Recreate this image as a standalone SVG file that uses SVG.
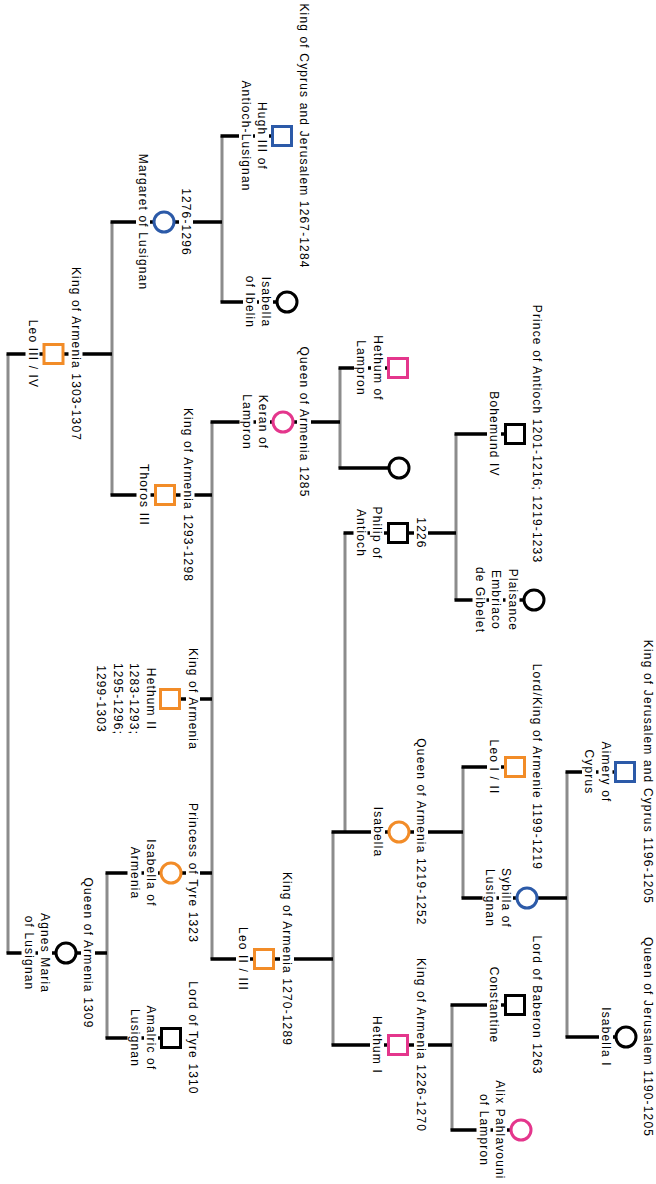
<svg xmlns="http://www.w3.org/2000/svg" width="656" height="1184" viewBox="0 0 656 1184">
<style>
.v{stroke:#8c8c8c;stroke-width:3;fill:none}
.h{stroke:#000;stroke-width:3.5;fill:none}
.s{fill:#fff;stroke-width:3}
.or{stroke:#F28C28}.bl{stroke:#2C5AA8}.pk{stroke:#E4368C}.bk{stroke:#000}
.bg{fill:#fff}
text{font-family:"Liberation Sans",Arial,sans-serif;font-size:12px;letter-spacing:1.15px;fill:#000;text-anchor:middle;dominant-baseline:central}
</style>
<rect width="656" height="1184" fill="#fff"/>
<g id="connectors">
<path class="v" d="M8 354V953M112 222V495M222 136V302M212 422V959M107 873V1038M340 368V468M333 832V1045M345 533V832M456 434V600M463 767V898M567 772V1037M452 1005V1130"/>
<path class="h" d="M6.5 354H53M53 354H112M6.5 953H66M66 953H107M110.5 222H164M164 222H222M110.5 495H165M165 495H212M170 699H212M105.5 873H171M171 873H212M105.5 1038H171M220.5 136H282M220.5 302H287M210.5 422H283M283 422H340M210.5 959H264M264 959H333M338.5 368H398M338.5 468H399M343.5 533H398M398 533H456M331.5 832H399M399 832H463M331.5 1045H398M398 1045H452M454.5 434H515M454.5 600H534M461.5 767H515M461.5 898H527M527 898H567M450.5 1005H515M450.5 1130H521M565.5 772H625M565.5 1037H626"/>
</g>
<g id="leo3" transform="translate(53.5,354)"><rect class="s or" x="-9.5" y="-9.5" width="19" height="19"/><rect class="bg" x="15" y="-87.9" width="14" height="175.8"/><text transform="translate(22 0) rotate(90)">King of Armenia 1303-1307</text><rect class="bg" x="-28" y="-34.75" width="14" height="69.5"/><text transform="translate(-21 0) rotate(90)">Leo III / IV</text></g>
<g id="agnes" transform="translate(66,953)"><circle class="s bk" r="10"/><rect class="bg" x="15" y="-76.3" width="14" height="152.6"/><text transform="translate(22 0) rotate(90)">Queen of Armenia 1309</text><rect class="bg" x="-28" y="-40.5" width="14" height="81"/><text transform="translate(-21 0) rotate(90)">Agnes Maria</text><rect class="bg" x="-44.5" y="-37.85" width="14" height="75.7"/><text transform="translate(-37.5 0) rotate(90)">of Lusignan</text></g>
<g id="margaret" transform="translate(164,222)"><circle class="s bl" r="10"/><rect class="bg" x="15" y="-34.35" width="14" height="68.7"/><text transform="translate(22 0) rotate(90)">1276-1296</text><rect class="bg" x="-28" y="-68.7" width="14" height="137.4"/><text transform="translate(-21 0) rotate(90)">Margaret of Lusignan</text></g>
<g id="thoros" transform="translate(165,495)"><rect class="s or" x="-9.5" y="-9.5" width="19" height="19"/><rect class="bg" x="15.5" y="-87.9" width="14" height="175.8"/><text transform="translate(22.5 0) rotate(90)">King of Armenia 1293-1298</text><rect class="bg" x="-28.5" y="-31.6" width="14" height="63.2"/><text transform="translate(-21.5 0) rotate(90)">Thoros III</text></g>
<g id="hethum2" transform="translate(170,699)"><rect class="s or" x="-9.5" y="-9.5" width="19" height="19"/><rect class="bg" x="16" y="-51.8" width="14" height="103.6"/><text transform="translate(23 0) rotate(90)">King of Armenia</text><rect class="bg" x="-26.5" y="-31.7" width="14" height="63.4"/><text transform="translate(-19.5 0) rotate(90)">Hethum II</text><rect class="bg" x="-43" y="-36.6" width="14" height="73.2"/><text transform="translate(-36 0) rotate(90)">1283-1293;</text><rect class="bg" x="-59.5" y="-36.6" width="14" height="73.2"/><text transform="translate(-52.5 0) rotate(90)">1295-1296;</text><rect class="bg" x="-76" y="-34.35" width="14" height="68.7"/><text transform="translate(-69 0) rotate(90)">1299-1303</text></g>
<g id="isabella-armenia" transform="translate(171,873)"><circle class="s or" r="10"/><rect class="bg" x="15" y="-70.95" width="14" height="141.9"/><text transform="translate(22 0) rotate(90)">Princess of Tyre 1323</text><rect class="bg" x="-27" y="-34.15" width="14" height="68.3"/><text transform="translate(-20 0) rotate(90)">Isabella of</text><rect class="bg" x="-43.5" y="-26.85" width="14" height="53.7"/><text transform="translate(-36.5 0) rotate(90)">Armenia</text></g>
<g id="amalric" transform="translate(171,1038)"><rect class="s bk" x="-9.5" y="-9.5" width="19" height="19"/><rect class="bg" x="15" y="-57.65" width="14" height="115.3"/><text transform="translate(22 0) rotate(90)">Lord of Tyre 1310</text><rect class="bg" x="-27" y="-32.9" width="14" height="65.8"/><text transform="translate(-20 0) rotate(90)">Amalric of</text><rect class="bg" x="-43.5" y="-29.45" width="14" height="58.9"/><text transform="translate(-36.5 0) rotate(90)">Lusignan</text></g>
<g id="hugh3" transform="translate(282,136)"><rect class="s bl" x="-9.5" y="-9.5" width="19" height="19"/><rect class="bg" x="15" y="-133.05" width="14" height="266.1"/><text transform="translate(22 0) rotate(90)">King of Cyprus and Jerusalem 1267-1284</text><rect class="bg" x="-27" y="-34.5" width="14" height="69"/><text transform="translate(-20 0) rotate(90)">Hugh III of</text><rect class="bg" x="-43" y="-56.05" width="14" height="112.1"/><text transform="translate(-36 0) rotate(90)">Antioch-Lusignan</text></g>
<g id="isabella-ibelin" transform="translate(287,302)"><circle class="s bk" r="10"/><rect class="bg" x="-28" y="-25.8" width="14" height="51.6"/><text transform="translate(-21 0) rotate(90)">Isabella</text><rect class="bg" x="-44" y="-26.7" width="14" height="53.4"/><text transform="translate(-37 0) rotate(90)">of Ibelin</text></g>
<g id="keran" transform="translate(283,422)"><circle class="s pk" r="10"/><rect class="bg" x="14" y="-76.3" width="14" height="152.6"/><text transform="translate(21 0) rotate(90)">Queen of Armenia 1285</text><rect class="bg" x="-27" y="-27.8" width="14" height="55.6"/><text transform="translate(-20 0) rotate(90)">Keran of</text><rect class="bg" x="-43.5" y="-28.2" width="14" height="56.4"/><text transform="translate(-36.5 0) rotate(90)">Lampron</text></g>
<g id="leo2" transform="translate(264,959)"><rect class="s or" x="-9.5" y="-9.5" width="19" height="19"/><rect class="bg" x="16" y="-87.9" width="14" height="175.8"/><text transform="translate(23 0) rotate(90)">King of Armenia 1270-1289</text><rect class="bg" x="-28" y="-32.4" width="14" height="64.8"/><text transform="translate(-21 0) rotate(90)">Leo II / III</text></g>
<g id="hethum-lampron" transform="translate(398,368)"><rect class="s pk" x="-9.5" y="-9.5" width="19" height="19"/><rect class="bg" x="-27" y="-33.35" width="14" height="66.7"/><text transform="translate(-20 0) rotate(90)">Hethum of</text><rect class="bg" x="-44" y="-28.2" width="14" height="56.4"/><text transform="translate(-37 0) rotate(90)">Lampron</text></g>
<g id="unknown" transform="translate(399,468)"><circle class="s bk" r="10"/></g>
<g id="philip" transform="translate(398,533)"><rect class="s bk" x="-9.5" y="-9.5" width="19" height="19"/><rect class="bg" x="16" y="-16.15" width="14" height="32.3"/><text transform="translate(23 0) rotate(90)">1226</text><rect class="bg" x="-28" y="-27" width="14" height="54"/><text transform="translate(-21 0) rotate(90)">Philip of</text><rect class="bg" x="-44.5" y="-24.55" width="14" height="49.1"/><text transform="translate(-37.5 0) rotate(90)">Antioch</text></g>
<g id="isabella" transform="translate(399,832)"><circle class="s or" r="10"/><rect class="bg" x="15" y="-94.5" width="14" height="189"/><text transform="translate(22 0) rotate(90)">Queen of Armenia 1219-1252</text><rect class="bg" x="-28" y="-25.8" width="14" height="51.6"/><text transform="translate(-21 0) rotate(90)">Isabella</text></g>
<g id="hethum1" transform="translate(398,1045)"><rect class="s pk" x="-9.5" y="-9.5" width="19" height="19"/><rect class="bg" x="16" y="-87.9" width="14" height="175.8"/><text transform="translate(23 0) rotate(90)">King of Armenia 1226-1270</text><rect class="bg" x="-28" y="-29.45" width="14" height="58.9"/><text transform="translate(-21 0) rotate(90)">Hethum I</text></g>
<g id="bohemund4" transform="translate(515,434)"><rect class="s bk" x="-9.5" y="-9.5" width="19" height="19"/><rect class="bg" x="15" y="-130.1" width="14" height="260.2"/><text transform="translate(22 0) rotate(90)">Prince of Antioch 1201-1216; 1219-1233</text><rect class="bg" x="-28" y="-43.2" width="14" height="86.4"/><text transform="translate(-21 0) rotate(90)">Bohemund IV</text></g>
<g id="plaisance" transform="translate(534,600)"><circle class="s bk" r="10"/><rect class="bg" x="-28.5" y="-31.7" width="14" height="63.4"/><text transform="translate(-21.5 0) rotate(90)">Plaisance</text><rect class="bg" x="-45" y="-30.45" width="14" height="60.9"/><text transform="translate(-38 0) rotate(90)">Embriaco</text><rect class="bg" x="-61.5" y="-33.6" width="14" height="67.2"/><text transform="translate(-54.5 0) rotate(90)">de Gibelet</text></g>
<g id="leo1" transform="translate(515,767)"><rect class="s or" x="-9.5" y="-9.5" width="19" height="19"/><rect class="bg" x="15" y="-104.45" width="14" height="208.9"/><text transform="translate(22 0) rotate(90)">Lord/King of Armenie 1199-1219</text><rect class="bg" x="-28" y="-27.95" width="14" height="55.9"/><text transform="translate(-21 0) rotate(90)">Leo I / II</text></g>
<g id="sybilla" transform="translate(527,898)"><circle class="s bl" r="10"/><rect class="bg" x="-28" y="-30.6" width="14" height="61.2"/><text transform="translate(-21 0) rotate(90)">Sybilla of</text><rect class="bg" x="-44.5" y="-29.45" width="14" height="58.9"/><text transform="translate(-37.5 0) rotate(90)">Lusignan</text></g>
<g id="constantine" transform="translate(515,1005)"><rect class="s bk" x="-9.5" y="-9.5" width="19" height="19"/><rect class="bg" x="15" y="-70.05" width="14" height="140.1"/><text transform="translate(22 0) rotate(90)">Lord of Baberon 1263</text><rect class="bg" x="-28" y="-38.85" width="14" height="77.7"/><text transform="translate(-21 0) rotate(90)">Constantine</text></g>
<g id="alix" transform="translate(521,1130)"><circle class="s pk" r="10"/><rect class="bg" x="-28" y="-50.15" width="14" height="100.3"/><text transform="translate(-21 0) rotate(90)">Alix Pahlavouni</text><rect class="bg" x="-44.5" y="-36.6" width="14" height="73.2"/><text transform="translate(-37.5 0) rotate(90)">of Lampron</text></g>
<g id="aimery" transform="translate(625,772)"><rect class="s bl" x="-9.5" y="-9.5" width="19" height="19"/><rect class="bg" x="16" y="-133.05" width="14" height="266.1"/><text transform="translate(23 0) rotate(90)">King of Jerusalem and Cyprus 1196-1205</text><rect class="bg" x="-26.5" y="-31" width="14" height="62"/><text transform="translate(-19.5 0) rotate(90)">Aimery of</text><rect class="bg" x="-43" y="-22.95" width="14" height="45.9"/><text transform="translate(-36 0) rotate(90)">Cyprus</text></g>
<g id="isabella1" transform="translate(626,1037)"><circle class="s bk" r="10"/><rect class="bg" x="15" y="-101" width="14" height="202"/><text transform="translate(22 0) rotate(90)">Queen of Jerusalem 1190-1205</text><rect class="bg" x="-27" y="-30.25" width="14" height="60.5"/><text transform="translate(-20 0) rotate(90)">Isabella I</text></g>
</svg>
